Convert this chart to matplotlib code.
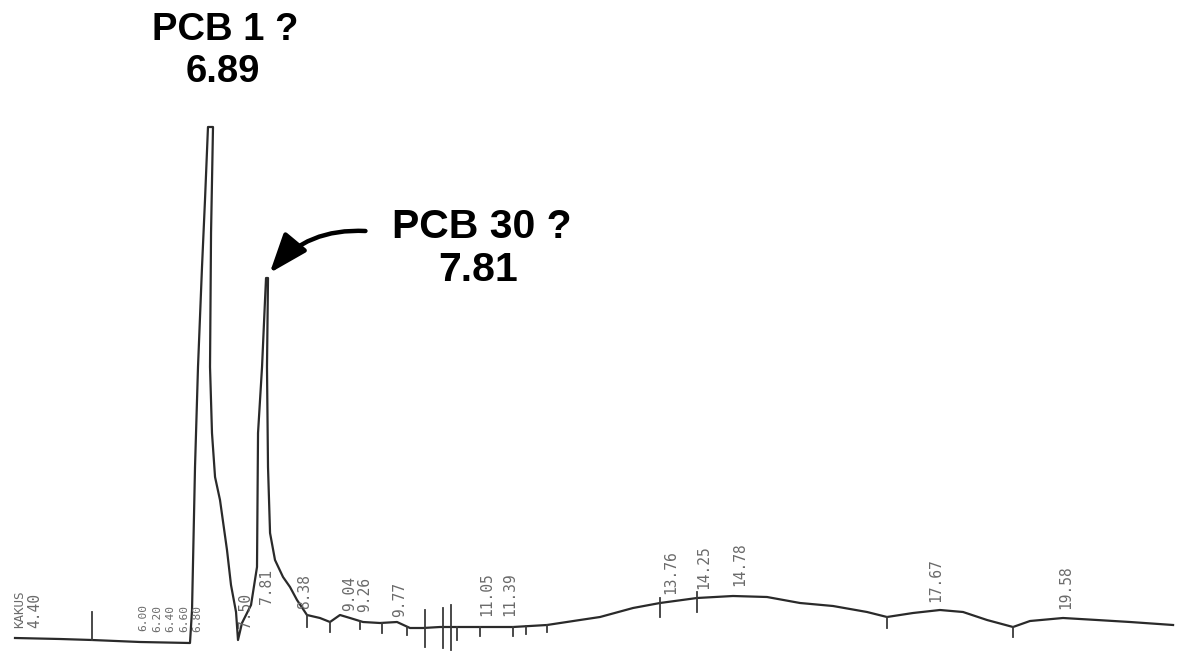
import numpy as np
import matplotlib
matplotlib.use("Agg")
import matplotlib.pyplot as plt

# ---- data (time in min, signal in arbitrary units) ----
time = [4.109, 4.772, 5.243, 5.950, 6.686, 6.716, 6.760, 6.804, 6.863, 6.907, 6.951,
        7.025, 6.996, 6.981, 7.010, 7.055, 7.128, 7.231, 7.290, 7.364, 7.393,
        7.452, 7.526, 7.585, 7.673, 7.688, 7.747, 7.791, 7.806, 7.835, 7.820,
        7.835, 7.865, 7.938, 8.056, 8.159, 8.262, 8.409, 8.600, 8.748, 8.895,
        9.043, 9.234, 9.485, 9.735, 9.926, 10.118, 10.368, 10.619, 10.957, 11.443,
        11.944, 12.430, 12.725, 13.211, 13.608, 14.153, 14.683, 15.184, 15.670,
        16.156, 16.657, 16.951, 17.334, 17.732, 18.071, 18.424, 18.807, 19.057,
        19.543, 20.044, 20.530, 21.164]
signal = [18, 17, 16, 14, 13, 46, 189, 289, 389, 456, 529,
          529, 423, 289, 223, 179, 156, 106, 71, 44, 16,
          33, 43, 51, 89, 223, 289, 356, 378, 378, 289,
          189, 123, 96, 79, 69, 56, 41, 38, 34, 41,
          38, 34, 33, 34, 28, 28, 29, 29, 29, 29,
          31, 36, 39, 48, 53, 58, 60, 59, 53,
          50, 44, 39, 43, 46, 44, 36, 29, 35,
          38, 36, 34, 31]

# retention-time labels printed by the integrator
label_times = [4.40, 7.50, 7.81, 8.38, 9.04, 9.26,
               9.77, 11.05, 11.39, 13.76, 14.25, 14.78, 17.67, 19.58]
cluster_times = [6.00, 6.20, 6.40, 6.60, 6.80]   # crowded, barely legible group
header_label = "KAKUS"
header_time = 4.18

# integrator event marks: time, extent above and below the trace
mark_times = [5.24, 8.41, 8.75, 9.19, 9.52, 9.88, 10.15, 10.41, 10.53, 10.62, 10.96,
              11.44, 11.63, 11.94, 13.61, 14.15, 16.95, 18.81]
mark_up = [28, 0, 0, 0, 0, 0, 18, 19, 22, 0, 0, 0, 0, 0, 5, 6, 0, 0]
mark_down = [0, 12, 10, 8, 10, 8, 19, 21, 23, 13, 9, 9, 8, 7, 14, 14, 11, 10]

# annotations
peak_names = ["PCB 1 ?", "PCB 30 ?"]
peak_rt = ["6.89", "7.81"]

# ---- figure ----
fig = plt.figure(figsize=(11.77, 6.56), dpi=100)
ax = fig.add_axes([0, 0, 1, 1])
ax.set_xlim(3.888, 21.222)
ax.set_ylim(0, 656)
ax.axis("off")

t = np.array(time)
s = np.array(signal)
ax.plot(t, s, color="#2a2a2a", lw=1.6, solid_joinstyle="round")

order = np.argsort(t, kind="stable")
ts, ss = t[order], s[order]

def local_floor(x, half=0.3):
    g = np.linspace(x - half, x + half, 80)
    return np.interp(g, ts, ss).min()

# event marks
for mt, up, dn in zip(mark_times, mark_up, mark_down):
    y0 = np.interp(mt, ts, ss)
    ax.plot([mt, mt], [y0 - dn, y0 + up], color="#3a3a3a", lw=1.3)

# retention time labels (rotated, dot-matrix look)
lab_kw = dict(rotation=90, ha="center", va="bottom",
              family="DejaVu Sans Mono", color="#6a6a6a")
for lt in label_times:
    ax.text(lt, local_floor(lt) + 11, f"{lt:.2f}", fontsize=10.5, **lab_kw)
for lt in cluster_times:
    ax.text(lt, local_floor(lt) + 11, f"{lt:.2f}", fontsize=8, **lab_kw)
ax.text(header_time, local_floor(header_time) + 11, header_label, fontsize=9, **lab_kw)

# bold annotations
ann_kw = dict(ha="center", va="baseline", fontweight="bold",
              family=["Liberation Sans", "DejaVu Sans"], color="black")
ax.text(7.20, 616, peak_names[0], fontsize=27.5, **ann_kw)
ax.text(7.17, 574, peak_rt[0], fontsize=27.5, **ann_kw)
ax.text(10.98, 418, peak_names[1], fontsize=29.5, **ann_kw)
ax.text(10.93, 375, peak_rt[1], fontsize=29.5, **ann_kw)

ax.annotate("", xy=(7.86, 383), xytext=(9.27, 425),
            arrowprops=dict(arrowstyle="-|>,head_length=1.2,head_width=0.45",
                            connectionstyle="arc3,rad=0.25", lw=3.2,
                            color="black", mutation_scale=20,
                            shrinkA=0, shrinkB=0))

fig.savefig("out.png", dpi=100, facecolor="white")
